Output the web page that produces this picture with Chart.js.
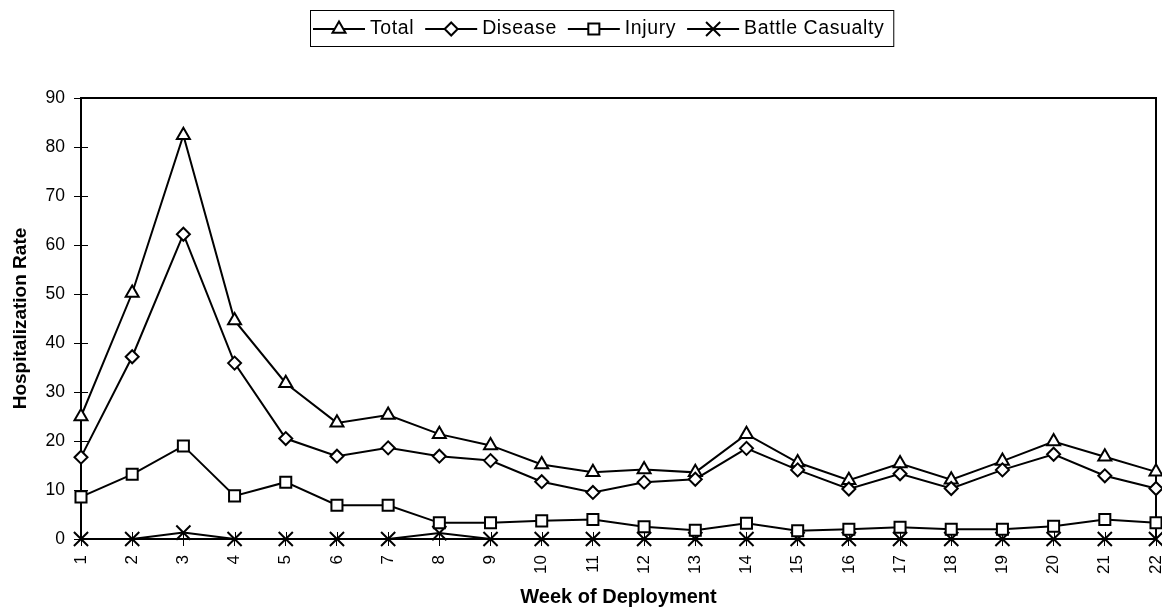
<!DOCTYPE html>
<html>
<head>
<meta charset="utf-8">
<script src="https://cdn.jsdelivr.net/npm/chart.js@4/dist/chart.umd.min.js"></script>
<style>
  html, body { margin: 0; padding: 0; background: #fff; }
  #wrap { width: 1162px; height: 609px; }
</style>
</head>
<body>
<div id="wrap"><canvas id="c" width="1162" height="609"></canvas></div>
<script>
// ---- data ----
const weeks = ['1','2','3','4','5','6','7','8','9','10','11','12','13','14','15','16','17','18','19','20','21','22'];
const totalRate   = [25.0, 50.2, 82.4, 44.6, 31.8, 23.7, 25.3, 21.4, 19.1, 15.2, 13.6, 14.2, 13.6, 21.4, 15.6, 12.0, 15.4, 12.1, 15.9, 19.9, 16.8, 13.7];
const diseaseRate = [16.7, 37.2, 62.2, 35.9, 20.5, 16.9, 18.6, 16.9, 16.0, 11.7, 9.5, 11.6, 12.2, 18.5, 14.1, 10.2, 13.3, 10.3, 14.1, 17.3, 12.9, 10.3];
const injuryRate  = [8.6, 13.2, 19.0, 8.8, 11.6, 6.9, 6.9, 3.3, 3.3, 3.7, 4.0, 2.5, 1.8, 3.2, 1.7, 2.0, 2.4, 2.0, 2.0, 2.6, 4.0, 3.3];
const battleRate  = [0, 0, 1.3, 0, 0, 0, 0, 1.2, 0, 0, 0, 0, 0, 0, 0, 0, 0, 0, 0, 0, 0, 0];
const seriesNames = ['Total', 'Disease', 'Injury', 'Battle Casualty'];
const yTicks = [0, 10, 20, 30, 40, 50, 60, 70, 80, 90];
const xTitle = 'Week of Deployment';
const yTitle = 'Hospitalization Rate';

const FONT = '"Liberation Sans", Arial, Helvetica, sans-serif';
Chart.defaults.color = '#000';
Chart.defaults.font.family = FONT;

function mk(label, data, style, radius, order) {
  return {
    label, data, order,
    borderColor: '#000', borderWidth: 2,
    pointStyle: style, pointRadius: radius, pointHoverRadius: radius,
    pointBackgroundColor: '#fff', pointBorderColor: '#000', pointBorderWidth: 2,
    tension: 0, fill: false, clip: false
  };
}

function drawMarker(ctx, style, r, x, y) {
  ctx.beginPath();
  if (style === 'triangle') {
    ctx.moveTo(x, y - r);
    ctx.lineTo(x + 0.866 * r, y + 0.5 * r);
    ctx.lineTo(x - 0.866 * r, y + 0.5 * r);
    ctx.closePath();
    ctx.fill(); ctx.stroke();
  } else if (style === 'rectRot') {
    ctx.moveTo(x - r, y); ctx.lineTo(x, y - r); ctx.lineTo(x + r, y); ctx.lineTo(x, y + r);
    ctx.closePath(); ctx.fill(); ctx.stroke();
  } else if (style === 'rect') {
    const h = r * Math.SQRT1_2;
    ctx.rect(x - h, y - h, 2 * h, 2 * h); ctx.fill(); ctx.stroke();
  } else if (style === 'crossRot') {
    const h = r * Math.SQRT1_2;
    ctx.moveTo(x - h, y - h); ctx.lineTo(x + h, y + h);
    ctx.moveTo(x + h, y - h); ctx.lineTo(x - h, y + h);
    ctx.stroke();
  }
}

const framePlugin = {
  id: 'frame',
  beforeDatasetsDraw(chart) {
    const { ctx, chartArea: a, scales } = chart;
    ctx.save();
    ctx.strokeStyle = '#000';
    ctx.lineWidth = 2;
    ctx.beginPath();
    ctx.moveTo(a.left, a.top);
    ctx.lineTo(a.right, a.top);
    ctx.lineTo(a.right, a.bottom);
    ctx.stroke();
    // inner half of the crossing tick marks
    ctx.lineWidth = 1;
    ctx.beginPath();
    scales.x.ticks.forEach((t, i) => {
      const px = Math.round(scales.x.getPixelForTick(i)) + 0.5;
      ctx.moveTo(px, a.bottom); ctx.lineTo(px, a.bottom - 7);
    });
    scales.y.ticks.forEach((t, i) => {
      const py = Math.round(scales.y.getPixelForTick(i)) + 0.5;
      ctx.moveTo(a.left, py); ctx.lineTo(a.left + 7, py);
    });
    ctx.stroke();
    ctx.restore();
  },
  afterDraw(chart) {
    const ctx = chart.ctx;
    ctx.save();
    ctx.font = '19.5px ' + FONT;
    if ('letterSpacing' in ctx) ctx.letterSpacing = '0.6px';
    ctx.textBaseline = 'alphabetic';
    ctx.fillStyle = '#000';
    const segLen = 52, gapText = 5, gapItem = 11, lineY = 29;
    const boxLeft = 310, boxTop = 10, boxH = 36;
    let x = boxLeft + 3;
    chart.data.datasets.forEach((ds) => {
      ctx.strokeStyle = '#000';
      ctx.lineWidth = 2;
      ctx.beginPath();
      ctx.moveTo(x, lineY); ctx.lineTo(x + segLen, lineY);
      ctx.stroke();
      ctx.fillStyle = '#fff';
      drawMarker(ctx, ds.pointStyle, ds.pointRadius, x + segLen / 2, lineY);
      ctx.fillStyle = '#000';
      const tx = x + segLen + gapText;
      ctx.fillText(ds.label, tx, 34);
      x = tx + ctx.measureText(ds.label).width + gapItem;
    });
    const boxRight = x - gapItem + 9;
    ctx.lineWidth = 1;
    ctx.strokeStyle = '#000';
    ctx.strokeRect(boxLeft + 0.5, boxTop + 0.5, boxRight - boxLeft, boxH);
    ctx.restore();
  }
};

new Chart(document.getElementById('c'), {
  type: 'line',
  data: {
    labels: weeks,
    datasets: [
      mk(seriesNames[0], totalRate, 'triangle', 7.5, 1),
      mk(seriesNames[1], diseaseRate, 'rectRot', 6.5, 0),
      mk(seriesNames[2], injuryRate, 'rect', 7.8, 2),
      mk(seriesNames[3], battleRate, 'crossRot', 10, 3)
    ]
  },
  options: {
    responsive: false,
    animation: false,
    devicePixelRatio: 1,
    layout: { autoPadding: false, padding: { top: 98, right: 6, bottom: 0, left: 0 } },
    plugins: { legend: { display: false }, tooltip: { enabled: false } },
    scales: {
      x: {
        type: 'category',
        offset: false,
        grid: { display: true, drawOnChartArea: false, drawTicks: true, tickLength: 7, color: '#000', lineWidth: 1 },
        border: { display: true, color: '#000', width: 2 },
        ticks: { autoSkip: false, minRotation: 90, maxRotation: 90, padding: 9, color: '#000', font: { size: 17, family: FONT } },
        title: { display: true, text: xTitle, color: '#000', font: { size: 20, weight: 'bold', family: FONT }, padding: { top: 0, bottom: 0 } },
        afterFit(s) { s.height = 70; s.paddingLeft = 0; s.paddingRight = 0; }
      },
      y: {
        min: 0, max: 90,
        afterBuildTicks(s) { s.ticks = yTicks.map(v => ({ value: v })); },
        grid: { display: true, drawOnChartArea: false, drawTicks: true, tickLength: 7, color: '#000', lineWidth: 1 },
        border: { display: true, color: '#000', width: 2 },
        ticks: { padding: 9, color: '#000', font: { size: 17.5, family: FONT } },
        title: { display: true, text: yTitle, color: '#000', font: { size: 19, weight: 'bold', family: FONT }, padding: { top: 9, bottom: 0 } },
        afterFit(s) { s.width = 81; s.paddingTop = 0; s.paddingBottom = 0; }
      }
    }
  },
  plugins: [framePlugin]
});
</script>
</body>
</html>
